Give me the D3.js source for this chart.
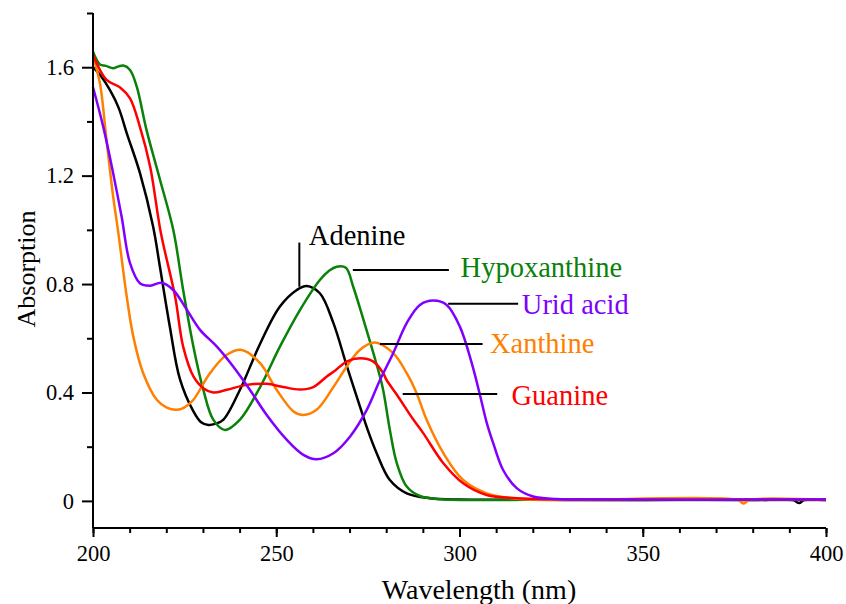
<!DOCTYPE html>
<html>
<head>
<meta charset="utf-8">
<script src="https://cdn.jsdelivr.net/npm/d3@7/dist/d3.min.js"></script>
<style>
  html, body { margin: 0; padding: 0; background: #fff; }
  svg { display: block; }
  text { font-family: "Liberation Serif", "Times New Roman", serif; }
</style>
</head>
<body>
<svg id="chart" width="846" height="604"></svg>
<script>
// ---- Data ----
const adenineWl = [200,202,204.6,207,209.2,212.8,216.4,218.3,221,223.7,227.4,229.5,231.5,233.5,235.6,240.1,245.6,251,255.6,258.3,261.9,265.6,269.2,272.8,275,277.4,281,285.6,292,300,320,340,360,380,391,392.7,394,400];
const adenineAbs = [1.60,1.57,1.516,1.45,1.357,1.21,1.012,0.86,0.64,0.45,0.33,0.29,0.28,0.285,0.30,0.41,0.58,0.717,0.778,0.793,0.766,0.656,0.50,0.35,0.26,0.176,0.077,0.028,0.01,0.005,0.004,0.003,0.004,0.003,0.003,-0.008,0.003,0.003];

const hypoxanthineWl = [200,201.9,203.5,205.5,207,208.3,210.1,211.9,214.6,218.3,221.9,224.6,227.4,230.1,232.8,236,240.1,245.6,251,256.5,261.9,264.5,266.5,269,271,273.8,276.5,279,281,282.9,285.6,289.2,295,320,350,400];
const hypoxanthineAbs = [1.657,1.61,1.605,1.596,1.603,1.606,1.59,1.53,1.369,1.184,1.0,0.778,0.569,0.41,0.30,0.262,0.30,0.42,0.569,0.705,0.815,0.85,0.864,0.86,0.79,0.668,0.545,0.42,0.262,0.139,0.053,0.018,0.006,0.004,0.003,0.003];

const guanineWl = [200,203.7,207.4,210.1,212.8,215.6,218.5,222.4,224.6,227.4,230.1,232.8,236.5,241.9,247.4,251.9,256.5,260.1,263.8,266,269.2,272.9,276.5,279.2,280.1,283,287.4,290.1,295.6,301,307.4,315.6,325,400];
const guanineAbs = [1.645,1.553,1.525,1.485,1.38,1.233,0.99,0.754,0.569,0.459,0.416,0.40,0.41,0.428,0.432,0.42,0.411,0.42,0.459,0.48,0.514,0.526,0.514,0.471,0.446,0.39,0.30,0.25,0.139,0.065,0.022,0.01,0.006,0.005];

const xanthineWl = [200,201.9,203.7,205.5,206.9,209.2,211,213.7,217.4,220,222.8,225,227.4,231.9,236.5,240.6,245.6,250.1,254.7,257.4,261,265.6,269.2,272.8,276.9,281.9,285.6,288.3,291,295.6,301,307.4,315.6,330,376,377.5,379,400];
const xanthineAbs = [1.64,1.54,1.33,1.123,0.99,0.754,0.606,0.471,0.373,0.345,0.336,0.345,0.373,0.471,0.539,0.557,0.508,0.41,0.33,0.317,0.336,0.42,0.495,0.557,0.584,0.545,0.471,0.397,0.30,0.176,0.077,0.028,0.008,0.004,0.003,-0.01,0.003,0.003];

const uridWl = [200,202.8,205.5,207.8,210.1,212.8,215.6,218.7,221.9,225.6,229.2,233.8,238.3,242.8,247.4,252.9,257.4,261,265.6,270.1,274.7,278.3,281.9,285.6,289.2,292.9,296.5,300.1,303.3,305.6,307.4,309.2,311.9,315.6,320.1,326.5,340,400];
const uridAbs = [1.526,1.38,1.209,1.049,0.877,0.803,0.794,0.805,0.778,0.705,0.631,0.569,0.495,0.41,0.317,0.225,0.17,0.154,0.176,0.237,0.336,0.446,0.545,0.656,0.723,0.739,0.723,0.643,0.51,0.39,0.29,0.213,0.114,0.047,0.016,0.007,0.005,0.005];

const seriesNames = ["Adenine","Hypoxanthine","Xanthine","Guanine","Urid acid"];
const seriesColors = ["#000000","#0a820a","#ff8000","#ff0000","#8000ff"];

const xTickValues = [200,250,300,350,400];
const yTickValues = [0,0.4,0.8,1.2,1.6];
const yTickLabels = ["0","0.4","0.8","1.2","1.6"];

// annotations: label anchor (wl, abs) and leader line endpoints in data units
const labelWl  = [258.9, 300.3, 308.3, 314.2, 317.0];
const labelAbs = [0.944, 0.825, 0.547, 0.354, 0.689];
const leaderX1 = [256.3, 270.9, 278.3, 284.5, 296.9];
const leaderY1 = [0.953, 0.852, 0.579, 0.394, 0.727];
const leaderX2 = [256.3, 297.1, 306.3, 310.3, 316.0];
const leaderY2 = [0.790, 0.852, 0.579, 0.394, 0.727];

// ---- Chart ----
const svg = d3.select("#chart");
const plotL = 93, plotR = 826, plotT = 13, plotB = 528;
const x = d3.scaleLinear().domain([200,400]).range([plotL,plotR]);
const y = d3.scaleLinear().domain([-0.1,1.8]).range([plotB,plotT]);

const data = [
  [adenineWl, adenineAbs],
  [hypoxanthineWl, hypoxanthineAbs],
  [xanthineWl, xanthineAbs],
  [guanineWl, guanineAbs],
  [uridWl, uridAbs]
];

const line = d3.line()
  .x(d => x(d[0])).y(d => y(d[1]))
  .curve(d3.curveCatmullRom.alpha(0.5));

data.forEach((s, i) => {
  const pts = s[0].map((w, k) => [w, s[1][k]]);
  svg.append("path")
    .datum(pts)
    .attr("d", line)
    .attr("fill", "none")
    .attr("stroke", seriesColors[i])
    .attr("stroke-width", 2.5)
    .attr("stroke-linejoin", "round");
});

// axes
const xAxisMinor = d3.axisBottom(x).tickValues(d3.range(200, 401, 10)).tickSize(5).tickFormat("");
const xAxis = d3.axisBottom(x).tickValues(xTickValues).tickSize(9).tickPadding(8).tickFormat(d3.format("d"));
const yAxisMinor = d3.axisLeft(y).tickValues([0.2,0.6,1.0,1.4,1.8]).tickSize(6).tickFormat("");
const yAxis = d3.axisLeft(y).tickValues(yTickValues).tickSize(11).tickPadding(8).tickFormat((d,i) => yTickLabels[i]);

function styleAxis(g) {
  g.attr("font-family", '"Liberation Serif", "Times New Roman", serif');
  g.select(".domain").attr("stroke", "#000").attr("stroke-width", 2);
  g.selectAll(".tick line").attr("stroke", "#000").attr("stroke-width", 2);
  g.selectAll(".tick text").attr("fill", "#000")
    .style("font-family", '"Liberation Serif", "Times New Roman", serif')
    .style("font-size", "22.5px");
}

const gxm = svg.append("g").attr("transform", `translate(0,${plotB})`).call(xAxisMinor); styleAxis(gxm);
const gx = svg.append("g").attr("transform", `translate(0,${plotB})`).call(xAxis); styleAxis(gx);
gx.select(".domain").attr("d", `M${plotL},0H${plotR}`);
gxm.select(".domain").attr("d", `M${plotL},0H${plotR}`);
const gym = svg.append("g").attr("transform", `translate(${plotL},0)`).call(yAxisMinor); styleAxis(gym);
const gy = svg.append("g").attr("transform", `translate(${plotL},0)`).call(yAxis); styleAxis(gy);
gy.select(".domain").attr("d", `M0,${plotT}V${plotB}`);
gym.select(".domain").attr("d", `M0,${plotT}V${plotB}`);

// axis titles
svg.append("text")
  .attr("x", 479).attr("y", 599)
  .attr("text-anchor", "middle")
  .style("font-size", "28px")
  .text("Wavelength (nm)");
svg.append("text")
  .attr("transform", "translate(35,269) rotate(-90)")
  .attr("text-anchor", "middle")
  .style("font-size", "26px")
  .text("Absorption");

// annotations
seriesNames.forEach((name, i) => {
  svg.append("line")
    .attr("x1", x(leaderX1[i])).attr("y1", y(leaderY1[i]))
    .attr("x2", x(leaderX2[i])).attr("y2", y(leaderY2[i]))
    .attr("stroke", "#000").attr("stroke-width", 2);
  svg.append("text")
    .attr("x", x(labelWl[i])).attr("y", y(labelAbs[i]))
    .attr("fill", seriesColors[i])
    .style("font-size", "28.5px")
    .text(name);
});
</script>
</body>
</html>
